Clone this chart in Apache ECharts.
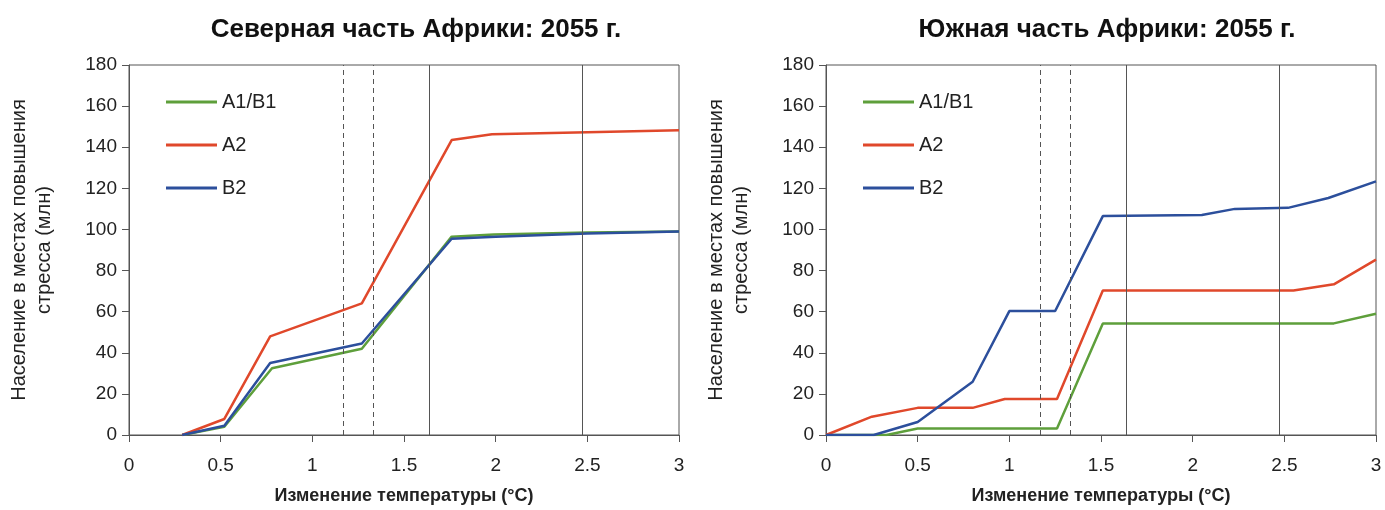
<!DOCTYPE html>
<html>
<head>
<meta charset="utf-8">
<script src="https://cdn.jsdelivr.net/npm/echarts@6/dist/echarts.min.js"></script>
<style>
html,body{margin:0;padding:0;background:#fff;}
#c{width:1385px;height:510px;}
</style>
</head>
<body>
<div id="c"></div>
<script>
// Titles and labels
var titles = ['Северная часть Африки: 2055 г.', 'Южная часть Африки: 2055 г.'];
var xAxisName = 'Изменение температуры (°C)';
var yAxisName = 'Население в местах повышения\nстресса (млн)';
var seriesNames = ['A1/B1', 'A2', 'B2'];
var xTicks = [0, 0.5, 1, 1.5, 2, 2.5, 3];
var yTicks = [0, 20, 40, 60, 80, 100, 120, 140, 160, 180];
var dashedLines = [1.17, 1.33];
var solidLines = [1.64, 2.47];

// Northern Africa
var northA1B1 = [[0.29,0],[0.52,4],[0.78,32.5],[1.27,42],[1.76,96.5],[1.99,97.5],[2.5,98.5],[3,99]];
var northA2   = [[0.29,0],[0.52,7.8],[0.77,48],[1.27,64],[1.76,143.5],[1.98,146.3],[2.5,147.3],[3,148.3]];
var northB2   = [[0.29,0],[0.52,4.5],[0.77,35],[1.27,44.5],[1.76,95.5],[2.0,96.5],[2.5,98],[3,99]];

// Southern Africa
var southA1B1 = [[0,0],[0.33,0],[0.5,3.2],[1.26,3.2],[1.51,54.3],[2.77,54.3],[3,59]];
var southA2   = [[0,0],[0.25,8.9],[0.5,13.2],[0.8,13.2],[0.975,17.5],[1.26,17.5],[1.51,70.3],[2.55,70.3],[2.77,73.3],[3,85.3]];
var southB2   = [[0,0],[0.26,0],[0.5,6.3],[0.8,25.9],[1.0,60.3],[1.25,60.3],[1.51,106.5],[2.05,107],[2.23,110],[2.52,110.5],[2.74,115.3],[3,123.4]];

var colors = ['#5e9f3b', '#e0482b', '#2c4f9c'];
var FONT = 'Liberation Sans, Arial, sans-serif';

var chart = echarts.init(document.getElementById('c'), null, {renderer: 'canvas'});

function xAxisCfg(i) {
  return {
    type: 'value', gridIndex: i, min: 0, max: 3, interval: 0.5,
    name: xAxisName, nameLocation: 'middle', nameGap: 52,
    nameTextStyle: {fontFamily: FONT, fontSize: 18, fontWeight: 'bold', color: '#222'},
    axisLine: {show: true, onZero: false, lineStyle: {color: '#555', width: 1}},
    axisTick: {show: true, length: 7, inside: false, lineStyle: {color: '#555'}},
    axisLabel: {fontFamily: FONT, fontSize: 19, color: '#222', margin: 21,
      formatter: function (v) { return xTicks.indexOf(v) >= 0 ? String(v) : ''; }},
    splitLine: {show: false}
  };
}
function yAxisCfg(i) {
  return {
    type: 'value', gridIndex: i, min: 0, max: 180, interval: 20,
    name: yAxisName, nameLocation: 'middle', nameGap: 72, nameRotate: 90,
    nameTextStyle: {fontFamily: FONT, fontSize: 20, color: '#222', lineHeight: 25, align: 'center'},
    axisLine: {show: true, lineStyle: {color: '#555', width: 1}},
    axisTick: {show: true, length: 7, lineStyle: {color: '#555'}},
    axisLabel: {fontFamily: FONT, fontSize: 19, color: '#222', margin: 12,
      formatter: function (v) { return yTicks.indexOf(v) >= 0 ? String(v) : ''; }},
    splitLine: {show: false}
  };
}

function vlines() {
  var d = [];
  dashedLines.forEach(function (x) { d.push({xAxis: x, lineStyle: {type: [5, 4], color: '#555', width: 1}}); });
  solidLines.forEach(function (x) { d.push({xAxis: x, lineStyle: {type: 'solid', color: '#555', width: 1}}); });
  return {silent: true, symbol: 'none', label: {show: false}, animation: false, data: d};
}

function lineSeries(name, data, idx, color, withLines) {
  var s = {
    name: name, type: 'line', xAxisIndex: idx, yAxisIndex: idx, data: data,
    symbol: 'none', smooth: false, animation: false,
    lineStyle: {color: color, width: 2.5}, itemStyle: {color: color}, z: 3
  };
  if (withLines) s.markLine = vlines();
  return s;
}

function legendCfg(left) {
  return {orient: 'vertical', left: left, top: 92, padding: 0, itemWidth: 51, itemHeight: 3, itemGap: 23, icon: 'rect',
    data: seriesNames, textStyle: {fontFamily: FONT, fontSize: 20, color: '#222'},
    selectedMode: false};
}

var option = {
  backgroundColor: '#ffffff',
  animation: false,
  color: colors,
  title: [
    {text: titles[0], left: 411, top: 12, textAlign: 'center',
     textStyle: {fontFamily: FONT, fontSize: 26, fontWeight: 'bold', color: '#111'}},
    {text: titles[1], left: 1102, top: 12, textAlign: 'center',
     textStyle: {fontFamily: FONT, fontSize: 26, fontWeight: 'bold', color: '#111'}}
  ],
  legend: [legendCfg(166), legendCfg(863)],
  grid: [
    {left: 129, top: 65, width: 550, height: 371, containLabel: false, show: true, borderColor: '#555', borderWidth: 1, backgroundColor: 'transparent'},
    {left: 826, top: 65, width: 550, height: 371, containLabel: false, show: true, borderColor: '#555', borderWidth: 1, backgroundColor: 'transparent'}
  ],
  xAxis: [xAxisCfg(0), xAxisCfg(1)],
  yAxis: [yAxisCfg(0), yAxisCfg(1)],
  series: [
    lineSeries(seriesNames[0], northA1B1, 0, colors[0], true),
    lineSeries(seriesNames[1], northA2, 0, colors[1], false),
    lineSeries(seriesNames[2], northB2, 0, colors[2], false),
    lineSeries(seriesNames[0], southA1B1, 1, colors[0], true),
    lineSeries(seriesNames[1], southA2, 1, colors[1], false),
    lineSeries(seriesNames[2], southB2, 1, colors[2], false)
  ]
};
chart.setOption(option);
</script>
</body>
</html>
